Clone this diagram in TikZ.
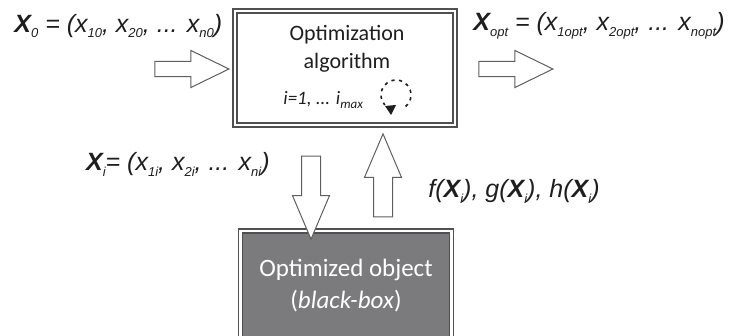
\documentclass[tikz,border=0pt]{standalone}
\usepackage{fontspec}
\setmainfont{Liberation Sans}
\newfontfamily\boxfont{Carlito}
\usepackage{tikz}
\usetikzlibrary{
  arrows.meta,
  positioning,
  shapes.arrows
}
\definecolor{linegray}{RGB}{80,80,80}
\definecolor{arrowgray}{RGB}{95,95,95}
\definecolor{objgray}{RGB}{123,123,125}
\definecolor{txtdark}{RGB}{30,30,30}
\newcommand{\lo}[1]{\raisebox{-0.45ex}{\fontsize{6.5}{7}\selectfont #1}}

\begin{document}
\begin{tikzpicture}[
  x=0.5pt, y=-0.5pt,
  frame/.style={draw=linegray, double=white, line width=0.6pt,
                double distance=1.4pt, inner sep=0pt},
  boxtext/.style={font=\boxfont\fontsize{11}{14}\selectfont, align=center,
                  text=txtdark},
  lbl/.style={font=\fontsize{12.5}{15}\selectfont\itshape, inner sep=0pt,
              text=txtdark},
  blockarr/.style={single arrow, draw=arrowgray, fill=white, line width=0.5pt,
                   inner xsep=0pt, inner ysep=3.6pt, minimum height=37pt,
                   single arrow head extend=5.4pt, single arrow tip angle=52},
  vertarr/.style={blockarr, inner ysep=4.5pt, minimum height=41.5pt,
                  single arrow head extend=4.5pt, single arrow tip angle=46},
  loopline/.style={draw=txtdark, line width=0.8pt, dash pattern=on 1.6pt off 2.2pt}
]
  \useasboundingbox (0,0) rectangle (734,336);

  % algorithm box
  \node[frame, minimum width=110pt, minimum height=57pt] (algo) at (345,68) {};
  \node[boxtext] (algotxt) at (347,49) {Optimization\\algorithm};
  \node[boxtext, font=\boxfont\fontsize{9.5}{11}\selectfont\itshape,
        anchor=west, inner sep=0pt] (iter) at (283,100) {i=1, ... i\lo{max}};
  % loop with its tip
  \coordinate (loopc) at (396,95);
  \draw[loopline] ([shift={(50:15)}]loopc) arc[start angle=50, end angle=-222, radius=15];
  \fill[txtdark] (385,106) -- (396,105) -- (391,115) -- cycle;

  % black-box object
  \node[frame, draw=linegray, fill=objgray, minimum width=105.5pt,
        minimum height=57pt] (obj) at (346,288) {};
  \node[boxtext, text=white, font=\boxfont\fontsize{12.5}{16}\selectfont]
    (objtxt) at (346,286) {Optimized object\\(\textit{black-box})};

  % labels
  \node[lbl, anchor=west] (x0) at (14,26)
    {\textbf{X}\lo{0} = (x\lo{10}, x\lo{20}, ... x\lo{n0})};
  \node[lbl, anchor=west] (xopt) at (473,26)
    {\textbf{X}\lo{opt} = (x\lo{1opt}, x\lo{2opt}, ... x\lo{nopt})};
  \node[lbl, anchor=east] (xi) at (270,164)
    {\textbf{X}\lo{i}= (x\lo{1i}, x\lo{2i}, ... x\lo{ni})};
  \node[lbl, anchor=west] (fx) at (428,191)
    {f(\textbf{X}\lo{i}), g(\textbf{X}\lo{i}), h(\textbf{X}\lo{i})};

  % block arrows
  \node[blockarr] (inarr) at (184,69) {};
  \node[blockarr] (outarr) at (508,69) {};
  \node[vertarr, rotate=-90] (downarr) at (311,186.5) {};
  \node[vertarr, rotate=90] (uparr) at (383,186.5) {};

\end{tikzpicture}
\end{document}
